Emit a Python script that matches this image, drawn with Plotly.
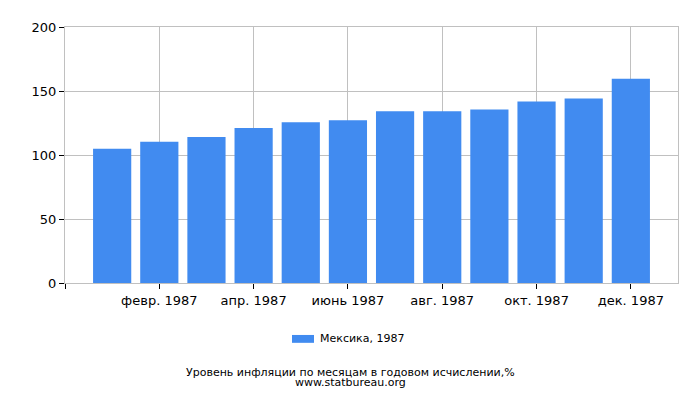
import plotly.graph_objects as go

months = ["янв. 1987", "февр. 1987", "март 1987", "апр. 1987", "май 1987", "июнь 1987",
          "июль 1987", "авг. 1987", "сент. 1987", "окт. 1987", "нояб. 1987", "дек. 1987"]
values = [104.9, 110.3, 114.1, 121.0, 125.6, 127.2, 134.1, 134.1, 135.6, 141.8, 144.1, 159.5]
series_name = "Мексика, 1987"
y_ticks = [0, 50, 100, 150, 200]
x_tick_idx = [1, 3, 5, 7, 9, 11]

BAR_COLOR = "#418bf0"
xpos = list(range(len(months)))

fig = go.Figure()
fig.add_trace(go.Bar(x=xpos, y=values, name=series_name, marker_color=BAR_COLOR,
                     marker_line_width=0, showlegend=False))

font = dict(family="DejaVu Sans", size=13, color="#000000")
small = dict(family="DejaVu Sans", size=11, color="#000000")
fig.update_layout(
    width=692, height=392,
    margin=dict(l=57, r=22, t=14, b=117),
    paper_bgcolor="white", plot_bgcolor="white",
    bargap=0.19,
    font=font,
    showlegend=False,
    xaxis=dict(range=[-1, 12], tickmode="array",
               tickvals=[-1] + x_tick_idx,
               ticktext=[""] + [months[i] for i in x_tick_idx],
               ticks="outside", ticklen=5, tickcolor="#000000",
               showgrid=True, gridcolor="#c0c0c0", gridwidth=1,
               showline=True, linecolor="#c0c0c0", mirror=True, zeroline=False,
               tickfont=font),
    yaxis=dict(range=[0, 200], tickmode="array", tickvals=y_ticks,
               ticks="outside", ticklen=5, tickcolor="#000000",
               showgrid=True, gridcolor="#c0c0c0", gridwidth=1,
               showline=True, linecolor="#c0c0c0", mirror=True, zeroline=False,
               tickfont=font),
    shapes=[dict(type="rect", xref="paper", yref="paper",
                 x0=0.3703, x1=0.4062, y0=-0.2337, y1=-0.203,
                 fillcolor=BAR_COLOR, line=dict(width=0))],
    annotations=[
        dict(text=series_name, x=0.4127, xref="paper", y=-0.218, yref="paper",
             xanchor="left", yanchor="middle", showarrow=False, font=small),
        dict(text="Уровень инфляции по месяцам в годовом исчислении,%",
             x=0.465, xref="paper", y=-0.3485, yref="paper", yanchor="middle", xanchor="center",
             showarrow=False, font=small),
        dict(text="www.statbureau.org",
             x=0.465, xref="paper", y=-0.39, yref="paper", yanchor="middle", xanchor="center",
             showarrow=False, font=small),
    ],
)

fig.write_html("out.html")
